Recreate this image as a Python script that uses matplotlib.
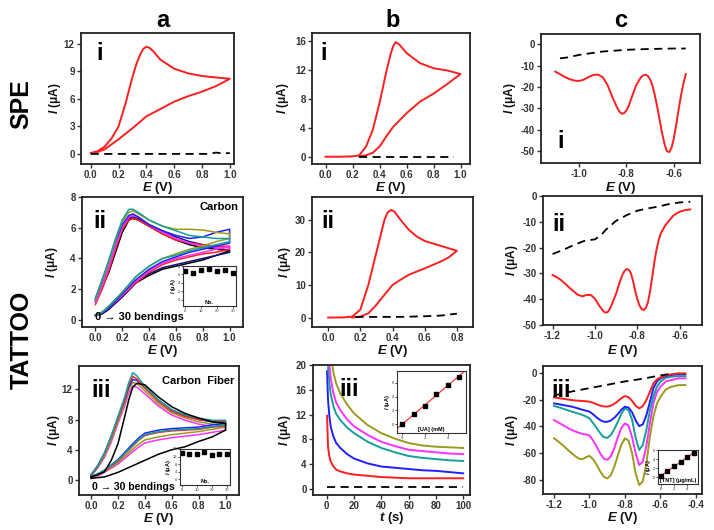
import numpy as np
import matplotlib.pyplot as plt

plt.rcParams['font.family'] = ['Liberation Sans', 'DejaVu Sans']
plt.rcParams['mathtext.fontset'] = 'custom'
plt.rcParams['mathtext.it'] = 'Liberation Sans:italic:bold'
plt.rcParams['mathtext.rm'] = 'Liberation Sans:bold'

W, H = 714, 530

# ---- a-i : SPE carbon CV
a1_E = [0.0, 0.05, 0.1, 0.15, 0.2, 0.25, 0.3, 0.33, 0.36, 0.38, 0.4, 0.42, 0.45, 0.5, 0.6, 0.7, 0.8, 0.9, 1.0,
        0.9, 0.8, 0.7, 0.6, 0.5, 0.4, 0.3, 0.2, 0.1, 0.02]
a1_I = [0.1, 0.3, 0.8, 1.7, 3.0, 5.5, 8.4, 9.9, 11.0, 11.5, 11.7, 11.6, 11.2, 10.3, 9.3, 8.8, 8.5, 8.35, 8.2,
        7.4, 6.8, 6.3, 5.7, 4.9, 4.1, 2.8, 1.6, 0.5, 0.05]
a1_blank_E = [0.0, 0.85, 0.9, 0.95, 1.0]
a1_blank_I = [0.0, 0.0, 0.15, 0.05, 0.1]

# ---- b-i : SPE uric acid CV
b1_E = [0.0, 0.1, 0.2, 0.25, 0.3, 0.35, 0.4, 0.45, 0.48, 0.5, 0.52, 0.55, 0.6, 0.7, 0.8, 0.9, 1.0,
        0.9, 0.8, 0.7, 0.6, 0.5, 0.45, 0.4, 0.35, 0.3, 0.25]
b1_I = [0.0, 0.0, 0.05, 0.2, 1.4, 3.7, 7.4, 11.7, 14.0, 15.2, 15.8, 15.4, 14.3, 12.9, 12.2, 11.9, 11.4,
        10.0, 8.7, 7.6, 6.0, 4.1, 2.8, 1.4, 0.55, 0.2, 0.05]
b1_blank_E = [0.25, 0.95]
b1_blank_I = [0.0, 0.0]

# ---- c-i : SPE TNT SWV
c1_E = [-1.10, -1.08, -1.06, -1.04, -1.02, -1.00, -0.98, -0.96, -0.94, -0.92, -0.90, -0.88, -0.86, -0.84,
        -0.83, -0.82, -0.81, -0.80, -0.79, -0.78, -0.76, -0.74, -0.73, -0.72, -0.71, -0.70, -0.69, -0.68,
        -0.67, -0.66, -0.65, -0.64, -0.63, -0.62, -0.61, -0.60, -0.59, -0.58, -0.57, -0.56, -0.55]
c1_I = [-12.8, -14.0, -15.3, -16.3, -17.0, -17.2, -16.6, -15.4, -14.4, -14.2, -15.4, -19.0, -24.5, -29.5,
        -31.5, -32.5, -32.3, -31.0, -28.8, -25.5, -19.5, -15.6, -14.6, -14.3, -14.8, -16.5, -19.5, -24.0,
        -29.5, -35.5, -41.5, -46.5, -50.0, -50.5, -48.5, -44.0, -37.5, -30.5, -24.0, -18.5, -14.0]
c1_blank_E = [-1.08, -1.05, -1.0, -0.9, -0.8, -0.7, -0.6, -0.55]
c1_blank_I = [-6.6, -6.2, -5.0, -3.4, -2.6, -2.2, -2.0, -2.0]

# ---- a-ii : tattoo carbon, 0 -> 30 bendings
a2_E = [0.0, 0.05, 0.1, 0.15, 0.2, 0.25, 0.28, 0.32, 0.4, 0.5, 0.6, 0.7, 0.8, 0.9, 1.0,
        1.0, 0.9, 0.8, 0.7, 0.6, 0.5, 0.4, 0.3, 0.2, 0.1, 0.05, 0.0]
a2_teal = [1.4, 2.6, 3.9, 5.3, 6.5, 7.2, 7.2, 7.0, 6.5, 6.1, 5.8, 5.5, 5.4, 5.3, 5.3,
           5.1, 4.9, 4.7, 4.5, 4.2, 4.0, 3.5, 2.8, 1.8, 0.9, 0.5, 0.3]
a2_olive = [1.3, 2.5, 3.8, 5.2, 6.4, 7.0, 7.1, 6.9, 6.5, 6.1, 5.9, 5.9, 5.85, 5.7, 5.6,
            5.3, 5.1, 4.8, 4.6, 4.3, 4.0, 3.5, 2.8, 1.8, 0.9, 0.5, 0.3]
a2_blue = [1.4, 2.6, 3.8, 5.1, 6.2, 6.8, 6.9, 6.7, 6.2, 5.8, 5.5, 5.3, 5.4, 5.7, 5.9,
           5.0, 4.8, 4.6, 4.4, 4.1, 3.8, 3.3, 2.6, 1.7, 0.8, 0.5, 0.3]
a2_magenta = [1.1, 2.2, 3.4, 4.8, 6.0, 6.7, 6.8, 6.7, 6.2, 5.7, 5.3, 5.0, 4.8, 4.7, 4.7,
              4.8, 4.6, 4.4, 4.2, 4.0, 3.7, 3.2, 2.5, 1.6, 0.8, 0.5, 0.3]
a2_red = [1.0, 2.0, 3.2, 4.6, 5.9, 6.5, 6.6, 6.5, 6.1, 5.6, 5.2, 5.0, 4.9, 4.8, 4.8,
          4.6, 4.4, 4.3, 4.1, 3.9, 3.6, 3.1, 2.4, 1.6, 0.8, 0.5, 0.3]
a2_navy = [1.3, 2.3, 3.4, 4.7, 5.9, 6.6, 6.7, 6.6, 6.2, 5.8, 5.4, 5.1, 4.9, 4.7, 4.5,
           4.4, 4.2, 4.0, 3.8, 3.6, 3.4, 3.0, 2.4, 1.5, 0.7, 0.4, 0.3]
a2_black = [1.2, 2.1, 3.1, 4.4, 5.7, 6.5, 6.6, 6.5, 6.1, 5.6, 5.2, 4.9, 4.7, 4.6, 4.5,
            4.5, 4.2, 3.9, 3.7, 3.5, 3.3, 2.9, 2.4, 1.5, 0.7, 0.4, 0.3]
a2_bend_no = [0, 5, 10, 15, 20, 25, 30]
a2_bend_I = [6.7, 6.4, 7.0, 7.2, 6.7, 7.0, 6.4]

# ---- a-iii : tattoo carbon fiber, 0 -> 30 bendings
a3_E = [0.0, 0.05, 0.1, 0.15, 0.2, 0.25, 0.28, 0.31, 0.34, 0.4, 0.5, 0.6, 0.7, 0.8, 0.9, 1.0,
        1.0, 0.9, 0.8, 0.7, 0.6, 0.5, 0.4, 0.35, 0.3, 0.2, 0.1, 0.05, 0.0]
a3_teal = [0.7, 1.9, 3.5, 5.8, 8.4, 11.0, 12.9, 14.2, 13.8, 12.4, 10.6, 9.3, 8.6, 8.2, 7.9, 7.9,
           7.3, 7.1, 6.8, 6.7, 6.6, 6.4, 6.0, 5.3, 4.4, 2.6, 1.3, 0.8, 0.4]
a3_red = [0.7, 1.9, 3.5, 5.7, 8.2, 10.7, 12.6, 13.7, 13.4, 12.2, 10.4, 9.1, 8.4, 8.0, 7.8, 7.7,
          7.2, 7.0, 6.7, 6.6, 6.5, 6.3, 5.9, 5.2, 4.3, 2.5, 1.2, 0.7, 0.4]
a3_blue = [0.6, 1.9, 3.6, 5.8, 8.3, 10.6, 12.3, 13.3, 13.2, 12.2, 10.6, 9.3, 8.5, 8.0, 7.7, 7.6,
           7.5, 7.3, 7.0, 6.9, 6.8, 6.6, 6.2, 5.5, 4.6, 2.7, 1.3, 0.8, 0.4]
a3_olive = [0.5, 1.7, 3.2, 5.3, 7.8, 10.2, 12.0, 12.9, 12.8, 11.8, 10.1, 8.9, 8.2, 7.7, 7.4, 7.3,
            7.0, 6.7, 6.4, 6.2, 6.0, 5.7, 5.3, 4.7, 3.9, 2.3, 1.1, 0.6, 0.3]
a3_magenta = [0.5, 1.6, 3.0, 5.0, 7.5, 9.8, 11.5, 12.4, 12.3, 11.4, 9.8, 8.6, 7.9, 7.4, 7.1, 7.0,
              6.6, 6.3, 6.0, 5.8, 5.6, 5.3, 4.9, 4.3, 3.6, 2.1, 1.0, 0.5, 0.2]
a3_black = [0.4, 0.7, 1.1, 2.6, 4.8, 8.4, 10.6, 12.3, 12.8, 12.6, 11.0, 9.7, 8.8, 8.2, 7.7, 7.5,
            6.6, 5.7, 5.1, 4.4, 4.0, 3.4, 2.6, 2.2, 1.8, 1.0, 0.4, 0.3, 0.2]
a3_bend_no = [0, 5, 10, 15, 20, 25, 30]
a3_bend_I = [14.0, 13.6, 13.6, 14.3, 12.6, 13.1, 13.1]

# ---- b-ii : tattoo uric acid CV
b2_E = [0.0, 0.1, 0.15, 0.2, 0.25, 0.3, 0.35, 0.37, 0.39, 0.41, 0.45, 0.5, 0.55, 0.6, 0.7, 0.8,
        0.75, 0.7, 0.6, 0.5, 0.45, 0.4, 0.35, 0.3, 0.25, 0.2, 0.15]
b2_I = [0.0, 0.05, 0.3, 2.4, 10.0, 20.0, 30.0, 32.3, 33.0, 32.6, 30.0, 27.0, 24.9, 23.5, 22.0, 20.5,
        18.5, 17.2, 15.1, 13.1, 11.6, 10.0, 7.0, 3.9, 1.3, 0.3, 0.0]
b2_blank_E = [0.17, 0.45, 0.6, 0.7, 0.8]
b2_blank_I = [0.2, 0.2, 0.4, 0.6, 1.2]

# ---- c-ii : tattoo TNT SWV
c2_E = [-1.20, -1.18, -1.16, -1.14, -1.12, -1.10, -1.08, -1.06, -1.04, -1.02, -1.00, -0.98, -0.96, -0.95,
        -0.94, -0.93, -0.92, -0.90, -0.88, -0.87, -0.86, -0.85, -0.84, -0.83, -0.82, -0.81, -0.80, -0.79,
        -0.78, -0.77, -0.76, -0.75, -0.74, -0.73, -0.72, -0.71, -0.70, -0.69, -0.67, -0.65, -0.63, -0.61,
        -0.59, -0.57, -0.55]
c2_I = [-30.6, -31.5, -32.6, -34.0, -35.6, -37.0, -38.3, -38.9, -38.4, -38.3, -39.8, -42.5, -44.7, -45.2,
        -45.0, -43.8, -42.0, -37.8, -32.6, -30.5, -29.0, -28.3, -28.6, -30.0, -33.0, -36.8, -40.0, -42.4,
        -43.8, -44.2, -43.4, -41.2, -37.0, -31.5, -25.8, -21.0, -17.3, -14.6, -11.6, -9.5, -7.6, -6.5,
        -5.8, -5.4, -5.2]
c2_blank_E = [-1.2, -1.15, -1.1, -1.05, -1.0, -0.97, -0.95, -0.9, -0.85, -0.8, -0.75, -0.7, -0.65, -0.6, -0.55]
c2_blank_I = [-22.5, -20.9, -19.0, -17.4, -16.8, -15.1, -13.2, -9.6, -7.4, -5.7, -4.8, -4.1, -3.1, -2.5, -2.2]

# ---- b-iii : chronoamperometry, increasing uric acid
b3_t = [0.3, 1, 2, 3, 5, 7, 10, 15, 20, 30, 40, 50, 60, 70, 80, 90, 100]
b3_red = [11.8, 6.8, 5.2, 4.4, 3.6, 3.1, 2.8, 2.5, 2.3, 2.1, 1.9, 1.8, 1.7, 1.7, 1.7, 1.7, 1.7]
b3_blue = [19.0, 14.4, 11.7, 10.0, 8.4, 7.4, 6.6, 5.6, 4.9, 4.1, 3.6, 3.4, 3.2, 3.0, 2.9, 2.7, 2.5]
b3_teal = [24.0, 20.0, 17.0, 15.3, 13.3, 12.1, 11.1, 9.9, 9.0, 7.6, 6.6, 5.9, 5.3, 5.0, 4.8, 4.6, 4.5]
b3_magenta = [28.0, 24.0, 20.0, 17.8, 15.4, 13.9, 12.7, 11.2, 10.1, 8.7, 7.6, 6.9, 6.3, 6.1, 5.9, 5.7, 5.6]
b3_olive = [32.0, 27.0, 24.0, 22.0, 18.7, 17.0, 15.4, 13.6, 12.2, 10.3, 9.0, 8.1, 7.4, 7.0, 6.8, 6.7, 6.6]
b3_blank_t = [0, 100]
b3_blank_I = [0.25, 0.25]
b3_conc = [0, 1, 2, 3, 4, 5]
b3_cal_I = [0.0, 1.5, 2.6, 4.4, 5.7, 6.9]

# ---- c-iii : SWV, increasing TNT
c3_E = [-1.20, -1.18, -1.16, -1.14, -1.12, -1.10, -1.08, -1.06, -1.04, -1.02, -1.00, -0.98, -0.96, -0.94,
        -0.92, -0.90, -0.88, -0.86, -0.84, -0.82, -0.80, -0.78, -0.76, -0.74, -0.72, -0.70, -0.68, -0.66,
        -0.64, -0.62, -0.60, -0.57, -0.54, -0.50, -0.46]
c3_red = [-18.4, -18.8, -19.2, -19.6, -20.0, -20.4, -20.7, -20.9, -21.1, -21.3, -21.6, -22.4, -23.5, -24.5,
          -25.1, -25.3, -24.6, -23.2, -21.2, -18.9, -17.4, -18.2, -21.0, -24.6, -26.6, -25.0, -20.5, -14.5,
          -8.0, -5.0, -3.5, -2.0, -1.2, -0.5, -0.5]
c3_blue = [-22.9, -23.3, -23.8, -24.3, -24.8, -25.3, -26.0, -26.8, -27.6, -28.3, -29.0, -31.0, -33.3, -35.3,
           -36.5, -36.6, -35.6, -33.6, -30.8, -27.5, -25.3, -26.0, -29.5, -35.5, -39.8, -38.6, -32.0, -22.0,
           -11.7, -6.5, -4.2, -2.5, -1.7, -1.0, -1.0]
c3_teal = [-24.8, -25.5, -26.3, -27.2, -28.1, -29.0, -29.8, -30.6, -31.5, -32.6, -34.0, -37.5, -41.2, -45.0,
           -48.0, -48.6, -46.5, -42.0, -36.5, -30.5, -26.6, -27.8, -35.0, -48.5, -57.6, -54.0, -43.0, -28.5,
           -17.9, -10.5, -6.7, -3.8, -3.0, -2.5, -2.5]
c3_magenta = [-35.3, -36.8, -38.3, -39.8, -41.3, -42.7, -43.8, -44.8, -45.6, -46.0, -46.8, -50.5, -55.0, -60.0,
              -63.9, -65.0, -62.5, -56.0, -48.0, -41.0, -37.8, -39.5, -48.0, -60.0, -68.8, -66.5, -55.0, -38.0,
              -22.9, -14.5, -10.4, -6.5, -5.5, -4.2, -4.2]
c3_olive = [-48.9, -50.8, -53.0, -55.3, -57.7, -60.0, -62.2, -64.0, -64.5, -63.0, -62.0, -64.5, -68.5, -73.5,
            -77.5, -78.8, -76.5, -70.0, -61.5, -53.5, -48.9, -50.5, -60.0, -75.0, -83.7, -81.0, -68.0, -48.0,
            -32.8, -23.0, -17.9, -12.5, -10.5, -9.3, -9.2]
c3_blank_E = [-1.2, -1.1, -1.0, -0.9, -0.8, -0.7, -0.6, -0.55]
c3_blank_I = [-17.0, -14.0, -11.5, -9.0, -6.5, -4.5, -2.0, -1.0]
c3_conc = [0, 1, 2, 3, 4, 5]
c3_cal_I = [0.2, 1.4, 2.4, 3.4, 4.4, 5.4]

RED = '#ff1e1e'
BLUE = '#2020ff'
MAG = '#ff30ff'
TEAL = '#14a098'
OLIVE = '#9c9a1e'
NAVY = '#10107a'
GRAY = '#333333'

fig = plt.figure(figsize=(W / 100, H / 100), dpi=100)


def box(l, t, r, b):
    return fig.add_axes([l / W, 1 - b / H, (r - l) / W, (b - t) / H])


def style(ax, rect, xlim, ylim, xt, yt, xfmt, ylab_x, xlab_y, xlab=r'$E$ (V)'):
    l, t, r, b = rect
    ax.set_xlim(xlim)
    ax.set_ylim(ylim)
    ax.set_xticks(xt, labels=[xfmt.format(v) for v in xt])
    ax.set_yticks(yt, labels=['{:g}'.format(v) for v in yt])
    ax.tick_params(direction='out', length=3, width=1, labelsize=7, colors=GRAY, pad=1.5)
    for lab in ax.get_xticklabels() + ax.get_yticklabels():
        lab.set_fontweight('bold')
    for s in ax.spines.values():
        s.set_linewidth(1.3)
        s.set_color('#222222')
    ax.set_ylabel(r'$I$ (μA)', fontsize=8.5, fontweight='bold', va='center', color='#111111')
    ax.yaxis.set_label_coords((ylab_x - l) / (r - l), 0.5)
    ax.set_xlabel(xlab, fontsize=9.5, fontweight='bold', va='center', color='#111111')
    ax.xaxis.set_label_coords(0.5, (b - xlab_y) / (b - t))


def roman(ax, s, x, y, va='top'):
    ax.text(x, y, s, transform=ax.transAxes, fontsize=17, fontweight='bold', va=va, ha='left')


def inset(rect, x, y, xt, yt, xlim, ylim, xlab, ylab, fit=False):
    ax = box(*rect)
    if fit:
        p = np.polyfit(x, y, 1)
        xx = np.array(xlim)
        ax.plot(xx, np.polyval(p, xx), color=RED, lw=0.8)
    ax.plot(x, y, 's', color='k', ms=2.6)
    ax.set_xlim(xlim)
    ax.set_ylim(ylim)
    ax.set_xticks(xt, labels=[str(v) for v in xt])
    ax.set_yticks(yt, labels=[str(v) for v in yt])
    ax.tick_params(direction='out', length=1.5, width=0.6, labelsize=3, pad=0.5, colors=GRAY)
    for s in ax.spines.values():
        s.set_linewidth(0.8)
        s.set_color(GRAY)
    ax.text(0.5, 0.02, xlab, transform=ax.transAxes, fontsize=4, fontweight='bold',
            ha='center', va='bottom')
    ax.set_ylabel(ylab, fontsize=4, labelpad=0, fontweight='bold')
    return ax


dash = dict(color='k', lw=1.3, dashes=(4.5, 3))

# a-i
r = (81, 33, 234, 164)
ax = box(*r)
ax.plot(a1_E, a1_I, color=RED, lw=1.4)
ax.plot(a1_blank_E, a1_blank_I, **dash)
style(ax, r, (-0.07, 1.03), (-1.1, 13.2), [0, 0.2, 0.4, 0.6, 0.8, 1.0], [0, 3, 6, 9, 12],
      '{:.1f}', 55, 188)
roman(ax, 'i', 0.1, 0.93)

# b-i
r = (312, 33, 470, 164)
ax = box(*r)
ax.plot(b1_E, b1_I, color=RED, lw=1.4)
ax.plot(b1_blank_E, b1_blank_I, **dash)
style(ax, r, (-0.1, 1.07), (-1.0, 17.06), [0, 0.2, 0.4, 0.6, 0.8, 1.0], [0, 4, 8, 12, 16],
      '{:.1f}', 283, 188)
roman(ax, 'i', 0.05, 0.93)

# c-i
r = (541, 34, 700, 163)
ax = box(*r)
ax.plot(c1_E, c1_I, color=RED, lw=1.4)
ax.plot(c1_blank_E, c1_blank_I, **dash)
style(ax, r, (-1.16, -0.49), (-55.6, 4.8), [-1.0, -0.8, -0.6], [0, -10, -20, -30, -40, -50],
      '{:.1f}', 510, 188)
roman(ax, 'i', 0.1, 0.08, va='bottom')

# a-ii
r = (82, 197, 243, 327)
ax = box(*r)
for ys, c in [(a2_black, 'k'), (a2_navy, NAVY), (a2_red, RED), (a2_magenta, MAG),
              (a2_blue, BLUE), (a2_olive, OLIVE), (a2_teal, TEAL)]:
    ax.plot(a2_E, ys, color=c, lw=1.1)
style(ax, r, (-0.1, 1.1), (-0.46, 8.0), [0, 0.2, 0.4, 0.6, 0.8, 1.0], [0, 2, 4, 6, 8],
      '{:.1f}', 52, 351)
roman(ax, 'ii', 0.07, 0.9)
ax.text(0.97, 0.92, 'Carbon', transform=ax.transAxes, ha='right', va='center',
        fontsize=8, fontweight='bold')
ax.text(0.08, 0.075, '0 → 30 bendings', transform=ax.transAxes, ha='left', va='center',
        fontsize=8, fontweight='bold', family=['Liberation Sans', 'DejaVu Sans'])
inset((183, 266, 236, 306), a2_bend_no, a2_bend_I, [0, 10, 20, 30], [0, 2, 4, 6, 8],
      (-1, 32), (-1.5, 8), 'No.', r'$I$ (μA)')

# b-ii
r = (312, 197, 473, 327)
ax = box(*r)
ax.plot(b2_E, b2_I, color=RED, lw=1.4)
ax.plot(b2_blank_E, b2_blank_I, **dash)
style(ax, r, (-0.1, 0.9), (-2.9, 37.0), [0, 0.2, 0.4, 0.6, 0.8], [0, 10, 20, 30],
      '{:.1f}', 285, 351)
roman(ax, 'ii', 0.06, 0.9)

# c-ii
r = (543, 196, 702, 325)
ax = box(*r)
ax.plot(c2_E, c2_I, color=RED, lw=1.4)
ax.plot(c2_blank_E, c2_blank_I, **dash)
style(ax, r, (-1.245, -0.495), (-50, 0), [-1.2, -1.0, -0.8, -0.6], [0, -10, -20, -30, -40, -50],
      '{:.1f}', 512, 351)
roman(ax, 'ii', 0.06, 0.87)

# a-iii
r = (79, 366, 239, 495)
ax = box(*r)
for ys, c in [(a3_magenta, MAG), (a3_olive, OLIVE), (a3_blue, BLUE), (a3_red, RED),
              (a3_teal, TEAL), (a3_black, 'k')]:
    ax.plot(a3_E, ys, color=c, lw=1.1)
style(ax, r, (-0.09, 1.1), (-2.0, 15.1), [0, 0.2, 0.4, 0.6, 0.8, 1.0], [0, 4, 8, 12],
      '{:.1f}', 54, 519)
roman(ax, 'iii', 0.08, 0.9)
ax.text(0.97, 0.88, 'Carbon  Fiber', transform=ax.transAxes, ha='right', va='center',
        fontsize=8, fontweight='bold')
ax.text(0.08, 0.065, '0 → 30 bendings', transform=ax.transAxes, ha='left', va='center',
        fontsize=7.5, fontweight='bold', family=['Liberation Sans', 'DejaVu Sans'])
inset((180, 449, 230, 485), a3_bend_no, a3_bend_I, [0, 10, 20, 30], [0, 4, 8, 12, 16],
      (-1, 32), (-3, 16), 'No.', r'$I$ (μA)')

# b-iii
r = (313, 365, 470, 495)
ax = box(*r)
for ys, c in [(b3_red, RED), (b3_blue, BLUE), (b3_teal, TEAL), (b3_magenta, MAG), (b3_olive, OLIVE)]:
    ax.plot(b3_t, ys, color=c, lw=1.4)
ax.plot(b3_blank_t, b3_blank_I, **dash)
style(ax, r, (-10, 105), (-1.0, 20.0), [0, 20, 40, 60, 80, 100], [0, 4, 8, 12, 16, 20],
      '{:g}', 285, 518, xlab=r'$t$ (s)')
roman(ax, 'iii', 0.17, 0.9)
inset((397, 371, 466, 433), b3_conc, b3_cal_I, [0, 2, 4], [0, 2, 4, 6],
      (-0.47, 5.6), (-1.25, 7.7), '[UA] (mM)', r'$I$ (μA)', fit=True)

# c-iii
r = (543, 366, 702, 494)
ax = box(*r)
for ys, c in [(c3_olive, OLIVE), (c3_magenta, MAG), (c3_teal, TEAL), (c3_blue, BLUE), (c3_red, RED)]:
    ax.plot(c3_E, ys, color=c, lw=1.4)
ax.plot(c3_blank_E, c3_blank_I, **dash)
style(ax, r, (-1.262, -0.366), (-90.4, 5.0), [-1.2, -1.0, -0.8, -0.6, -0.4], [0, -20, -40, -60, -80],
      '{:.1f}', 512, 518)
roman(ax, 'iii', 0.05, 0.9)
inset((658, 450, 698, 484), c3_conc, c3_cal_I, [0, 2, 4], [0, 2, 4, 6],
      (-0.4, 5.6), (-1.5, 6.0), '[TNT] (μg/mL)', r'$I$ (μA)', fit=True)

# column and row headings
for s, x in [('a', 163), ('b', 393), ('c', 621)]:
    fig.text(x / W, 1 - 27 / H, s, fontsize=17, fontweight='bold', ha='center', va='baseline')
fig.text(21 / W, 1 - 104 / H, 'SPE', fontsize=18, fontweight='bold', rotation=90,
         ha='center', va='center')
fig.text(22 / W, 1 - 340 / H, 'TATTOO', fontsize=18, fontweight='bold', rotation=90,
         ha='center', va='center')

fig.savefig('out.png', dpi=100)
